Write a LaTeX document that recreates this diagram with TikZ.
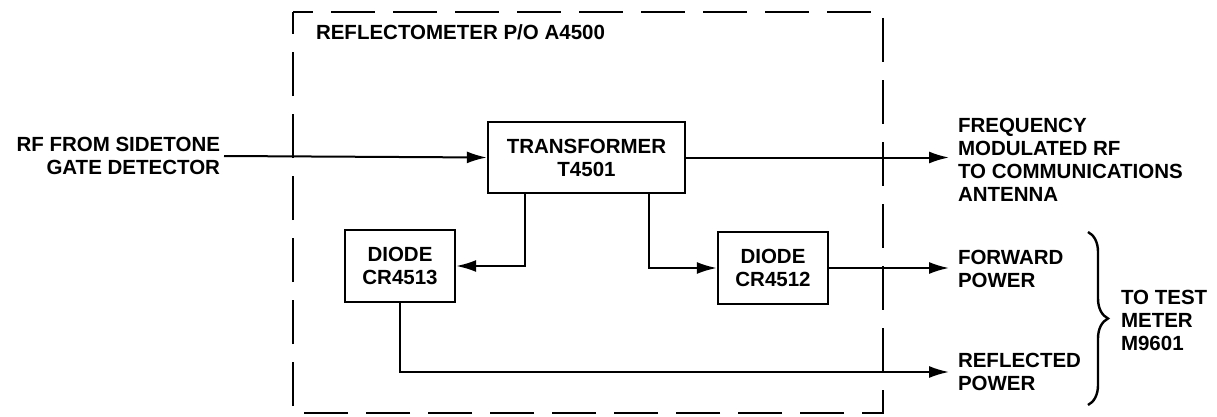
\documentclass[tikz,border=0pt]{standalone}
\usepackage{fontspec}
\setmainfont{Liberation Sans}
\usetikzlibrary{arrows.meta,decorations.pathreplacing}

\begin{document}
\begin{tikzpicture}[x=1pt, y=1pt, line width=2pt,
  every node/.style={inner sep=0pt, font=\fontsize{20.5}{23}\selectfont\bfseries},
  box/.style={draw, line width=2.4pt, minimum width=110pt, minimum height=72pt, align=center},
  outlbl/.style={anchor=west, align=left, inner xsep=8pt},
  conn/.style={-{Latex[length=20pt,width=12pt]}}]
  \useasboundingbox (0,0) rectangle (1217,416);
  \draw[dash pattern=on 44pt off 18pt, dash phase=24pt, line width=2.4pt] (293,404) -- (883,404) -- (883,3) -- (293,3) -- cycle;
  \node[anchor=west] (title) at (315,384) {REFLECTOMETER P/O A4500};
  \node[box, minimum width=197pt, minimum height=71pt] (xfmr) at (586.5,258.5) {TRANSFORMER\\T4501};
  \node[box] (d13) at (400,150) {DIODE\\CR4513};
  \node[box] (d12) at (773,148) {DIODE\\CR4512};
  \node[anchor=east, align=right, inner sep=3pt] (src) at (224,260) {RF FROM SIDETONE\\GATE DETECTOR};
  \node[outlbl] (freq) at (949,256) {FREQUENCY\\MODULATED RF\\TO COMMUNICATIONS\\ANTENNA};
  \node[outlbl] (fwd) at (949,147.5) {FORWARD\\POWER};
  \node[outlbl] (refl) at (949,44) {REFLECTED\\POWER};
  \node[anchor=west, align=left] (meter) at (1120,96) {TO TEST\\METER\\M9601};
  \draw[conn] (src.east) -- (xfmr.west);
  \draw[conn] (xfmr.east) -- (xfmr.east -| freq.west);
  \draw[conn] ([xshift=-62pt]xfmr.south) |- (d13.east);
  \draw[conn] ([xshift=62pt]xfmr.south) |- (d12.west);
  \draw[conn] (d12.east) -- (d12.east -| fwd.west);
  \draw[conn] (d13.south) |- (refl.west);
  \draw[line width=2.4pt, decorate, decoration={brace, amplitude=20pt}] (1088,184) -- (1088,11);
\end{tikzpicture}
\end{document}
